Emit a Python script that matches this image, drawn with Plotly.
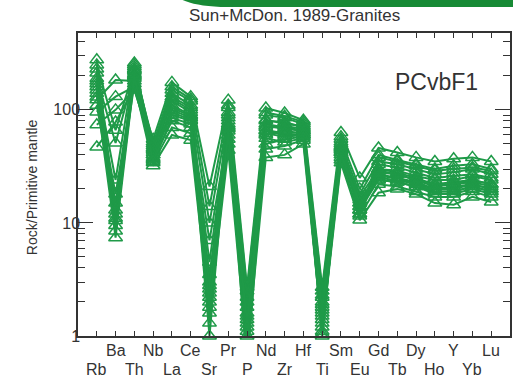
import plotly.graph_objects as go

elements = ["Rb", "Ba", "Th", "Nb", "La", "Ce", "Sr", "Pr", "P", "Nd", "Zr",
            "Hf", "Ti", "Sm", "Eu", "Gd", "Tb", "Dy", "Ho", "Y", "Yb", "Lu"]

s01 = [277, 12, 220, 40, 120, 95, 2.4, 85, 1.4, 75, 70, 66, 1.8, 48, 14, 30, 28, 25, 22, 23, 24, 22]
s02 = [212, 10.5, 240, 45, 140, 110, 2.2, 95, 1.2, 82, 75, 72, 1.6, 52, 13, 33, 31, 28, 25, 26, 27, 25]
s03 = [160, 15, 200, 38, 100, 85, 3.0, 70, 1.8, 65, 60, 60, 2.2, 42, 16, 27, 25, 23, 20, 21, 22, 20]
s04 = [123, 184, 180, 55, 175, 131, 21, 122, 2.7, 104, 94, 81, 2.7, 63, 25, 46, 42, 38, 35, 37, 38, 35]
s05 = [96, 131, 160, 50, 150, 120, 14, 105, 2.5, 90, 85, 75, 2.5, 55, 20, 40, 36, 33, 30, 32, 33, 30]
s06 = [74, 100, 150, 46, 130, 105, 10, 90, 2.2, 80, 78, 70, 2.3, 50, 18, 35, 33, 30, 27, 28, 30, 27]
s07 = [47, 78, 155, 42, 90, 80, 7, 65, 2.0, 60, 65, 62, 2.0, 44, 17, 30, 29, 26, 24, 24, 26, 24]
s08 = [250, 66, 230, 52, 110, 90, 4.5, 75, 1.6, 70, 72, 68, 1.9, 46, 15, 28, 27, 24, 21, 22, 23, 21]
s09 = [190, 51, 210, 36, 80, 70, 3.5, 55, 1.5, 50, 55, 58, 1.5, 38, 13, 24, 23, 21, 19, 19, 21, 19]
s10 = [180, 24, 250, 48, 160, 125, 2.6, 110, 1.1, 95, 88, 78, 1.3, 58, 12, 38, 35, 32, 29, 30, 31, 29]
s11 = [140, 18, 190, 34, 70, 62, 2.0, 50, 0.9, 45, 48, 54, 1.2, 36, 11.5, 22, 21, 19, 17, 17, 19, 17]
s12 = [110, 13, 170, 32, 60, 54, 1.6, 44, 0.7, 38, 40, 50, 1.1, 34, 10.6, 18.5, 20, 18, 15, 14.5, 17, 15.3]
s13 = [230, 11, 260, 44, 125, 100, 1.3, 80, 0.5, 72, 68, 65, 1.0, 47, 12, 29, 27, 24, 22, 22, 24, 22]
s14 = [170, 9.5, 225, 40, 105, 88, 1.0, 72, 0.8, 66, 62, 63, 1.05, 45, 13, 26, 25, 22, 20, 20, 22, 20]
s15 = [150, 8.5, 205, 37, 95, 82, 1.8, 68, 1.0, 62, 58, 60, 1.4, 42, 14, 25, 24, 22, 19, 19, 21, 19]
s16 = [130, 7.4, 195, 35, 85, 75, 2.8, 60, 1.3, 56, 52, 56, 1.7, 40, 15, 24, 23, 21, 18, 18, 20, 18]

samples = [s01, s02, s03, s04, s05, s06, s07, s08, s09, s10, s11, s12, s13, s14, s15, s16]

y_major = [1, 10, 100]
y_minor = [2, 3, 4, 5, 6, 7, 8, 9, 20, 30, 40, 50, 60, 70, 80, 90, 200, 300, 400]

GREEN = "#1f9a48"
AX = "#333333"
FONT = "Liberation Sans, Arial, sans-serif"

xpos = list(range(1, len(elements) + 1))

fig = go.Figure()
for s in samples:
    fig.add_trace(go.Scatter(
        x=xpos, y=s, mode="lines+markers",
        line=dict(color=GREEN, width=2),
        marker=dict(symbol="triangle-up-open", size=12, color=GREEN,
                    line=dict(color=GREEN, width=1.5)),
        cliponaxis=False, showlegend=False, hoverinfo="skip"))

fig.update_layout(
    width=513, height=379,
    margin=dict(l=78, r=1, t=33, b=43),
    paper_bgcolor="white", plot_bgcolor="white",
    font=dict(family=FONT, color=AX, size=16),
    xaxis=dict(range=[0, 23], tickvals=xpos, ticks="inside", ticklen=5,
               tickwidth=1.2, tickcolor=AX, showticklabels=False,
               showline=True, linecolor=AX, linewidth=1.5, mirror="ticks",
               showgrid=False, zeroline=False),
    yaxis=dict(type="log", range=[0, 2.68], tickvals=y_major,
               ticktext=[str(v) for v in y_major],
               ticks="inside", ticklen=15, tickwidth=1.2, tickcolor=AX,
               showline=True, linecolor=AX, linewidth=1.5, mirror="ticks",
               showgrid=False, zeroline=False, ticklabelstandoff=-7,
               tickfont=dict(size=16, color=AX, family=FONT),
               minor=dict(tickmode="array", tickvals=y_minor, ticks="inside",
                          ticklen=7, tickwidth=1.2, tickcolor=AX, showgrid=False)),
)

# element labels, alternating two rows
for i, el in enumerate(elements):
    row_y = -0.112 if i % 2 == 0 else -0.0495
    fig.add_annotation(x=xpos[i], y=row_y, xref="x", yref="paper", text=el,
                       showarrow=False, xanchor="center", yanchor="middle",
                       font=dict(size=16, color=AX, family=FONT))

fig.add_annotation(x=-0.106, y=0.492, xref="paper", yref="paper",
                   text="Rock/Primitive mantle", textangle=-90, showarrow=False,
                   xanchor="center", yanchor="middle",
                   font=dict(size=14, color=AX, family=FONT))
fig.add_annotation(x=0.502, y=1.057, xref="paper", yref="paper",
                   text="Sun+McDon. 1989-Granites", showarrow=False,
                   xanchor="center", yanchor="middle",
                   font=dict(size=17, color=AX, family=FONT))
fig.add_annotation(x=0.829, y=0.838, xref="paper", yref="paper",
                   text="PCvbF1", showarrow=False,
                   xanchor="center", yanchor="middle",
                   font=dict(size=23, color=AX, family=FONT))

# green decorative banner at top
fig.add_shape(type="path", xref="paper", yref="paper",
              path="M 0.242 1.109 L 1.01 1.109 L 1.01 1.086 L 0.33 1.086 Q 0.27 1.09 0.242 1.109 Z",
              fillcolor="#178a35", line=dict(width=0), layer="above")

fig.write_html("out.html")
